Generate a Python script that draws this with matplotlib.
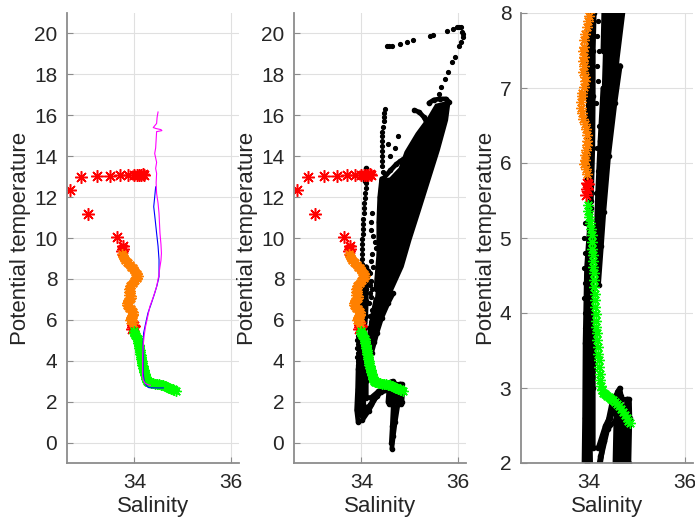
import matplotlib.pyplot as plt

plt.rcParams['font.family'] = ['Liberation Sans', 'DejaVu Sans']

# --- CTD cast, split by water mass (salinity, potential temperature) ---
red_sal = [32.66, 32.89, 33.04, 33.23, 33.49, 33.70, 33.86, 33.99, 34.06, 34.10, 34.14, 34.17, 34.20,
           33.63, 33.77, 33.76, 33.74, 33.96, 33.99, 33.95, 33.98]
red_temp = [12.37, 12.96, 11.15, 13.04, 13.04, 13.08, 13.08, 13.08, 13.10, 13.10, 13.10, 13.12, 13.10,
            10.03, 9.62, 9.48, 9.38, 5.74, 5.72, 5.57, 5.65]

orange_sal = [33.74, 33.76, 33.79, 33.81, 33.84, 33.87, 33.90, 33.93, 33.96, 33.99, 34.02, 34.05, 34.07,
              34.06, 34.02, 34.00, 33.96, 33.93, 33.91, 33.90, 33.89, 33.90, 33.89, 33.90, 33.89, 33.92,
              33.93, 33.90, 33.87, 33.86, 33.85, 33.84, 33.87, 33.89, 33.92, 33.95, 33.98, 33.97, 33.96,
              33.95, 33.93, 33.92, 33.91, 33.94, 33.98]
orange_temp = [9.22, 9.12, 9.02, 8.93, 8.85, 8.76, 8.68, 8.60, 8.52, 8.43, 8.34, 8.24, 8.14,
               8.05, 7.96, 7.90, 7.82, 7.72, 7.64, 7.55, 7.49, 7.42, 7.36, 7.29, 7.22, 7.15,
               7.09, 7.01, 6.94, 6.89, 6.82, 6.74, 6.67, 6.59, 6.52, 6.45, 6.37, 6.30, 6.24,
               6.18, 6.11, 6.04, 5.98, 5.92, 5.85]

green_sal = [33.99, 34.00, 34.02, 34.04, 34.05, 34.07, 34.08, 34.08, 34.09, 34.10, 34.10, 34.11, 34.12,
             34.12, 34.13, 34.13, 34.14, 34.15, 34.16, 34.16, 34.17, 34.18, 34.19, 34.20, 34.21, 34.22,
             34.23, 34.24, 34.26, 34.28, 34.31, 34.35, 34.39, 34.43, 34.47, 34.51, 34.55, 34.59, 34.63,
             34.67, 34.71, 34.75, 34.79, 34.83, 34.86]
green_temp = [5.44, 5.36, 5.28, 5.20, 5.12, 5.04, 4.95, 4.86, 4.78, 4.70, 4.62, 4.53, 4.44,
              4.35, 4.26, 4.17, 4.08, 3.99, 3.90, 3.81, 3.73, 3.64, 3.55, 3.46, 3.37, 3.28,
              3.19, 3.11, 3.03, 2.97, 2.94, 2.92, 2.90, 2.88, 2.86, 2.84, 2.82, 2.79, 2.76,
              2.72, 2.68, 2.64, 2.60, 2.56, 2.53]

# --- reference profiles ---
magenta_sal = [34.49, 34.47, 34.46, 34.39, 34.45, 34.55, 34.57, 34.46, 34.45, 34.44, 34.42, 34.46, 34.44,
               34.46, 34.45, 34.46, 34.49, 34.51, 34.52, 34.53, 34.55, 34.56, 34.55, 34.53, 34.50, 34.46,
               34.39, 34.32, 34.27, 34.23, 34.20, 34.18, 34.17, 34.17, 34.17, 34.18, 34.22, 34.28, 34.33]
magenta_temp = [16.16, 15.90, 15.60, 15.40, 15.35, 15.30, 15.25, 15.20, 14.80, 14.40, 14.13, 13.70, 13.40,
                13.16, 12.70, 12.18, 11.70, 11.20, 10.70, 10.23, 9.70, 9.25, 8.90, 8.60, 8.10, 7.62,
                7.10, 6.65, 6.10, 5.67, 5.20, 4.70, 4.20, 3.72, 3.30, 3.07, 2.90, 2.83, 2.80]

blue_sal = [34.44, 34.42, 34.40, 34.43, 34.46, 34.49, 34.51, 34.51, 34.47, 34.42, 34.35, 34.28, 34.23,
            34.19, 34.18, 34.18, 34.18, 34.18, 34.20, 34.22, 34.26, 34.30, 34.45, 34.60]
blue_temp = [12.50, 12.00, 11.53, 10.90, 10.23, 9.60, 8.93, 8.11, 7.70, 7.30, 6.80, 6.33, 5.80,
             5.35, 4.90, 4.38, 3.90, 3.40, 3.05, 2.90, 2.75, 2.68, 2.67, 2.67]

# --- float data: region where the samples merge into a solid mass ---
core_sal = [34.30, 34.26, 34.33, 34.36, 34.36, 34.40, 34.60, 34.80, 34.92, 35.15, 35.40, 35.55,
            35.82, 35.77, 35.60, 35.40, 35.20, 35.01, 34.85, 34.62, 34.42]
core_temp = [5.20, 6.00, 7.50, 9.00, 11.00, 12.80, 12.90, 13.40, 14.20, 15.10, 15.90, 16.50,
             16.65, 15.76, 14.30, 12.80, 11.30, 9.90, 8.60, 7.40, 6.10]

# --- float data: densely sampled segments ---
dense_sal = [
    [34.21, 34.27, 34.32, 34.42, 34.55, 34.66],
    [34.18, 34.22, 34.27, 34.35, 34.45],
    [34.15, 34.19, 34.24, 34.30],
    [34.30, 34.36, 34.36, 34.38, 34.42],
    [35.10, 35.20, 35.30, 35.38, 35.45],
    [35.40, 35.50, 35.62, 35.75, 35.82],
    [34.45, 34.60, 34.72, 34.80, 34.87, 34.95, 35.05],
    [34.08, 34.09, 34.10, 34.10],
    [34.02, 34.05, 34.06, 34.05, 34.07, 34.10, 34.10],
    [34.06, 34.09, 34.10, 34.10, 34.12, 34.14],
    [33.97, 33.99, 34.00, 34.00, 34.02],
    [34.05, 33.96, 33.93, 33.92, 33.90, 33.93, 34.02, 34.15, 34.32, 34.50, 34.62, 34.70, 34.80, 34.85],
    [34.10, 34.00, 33.98, 33.97, 34.00, 34.20, 34.40, 34.60, 34.80],
    [34.08, 34.05, 34.03, 34.05, 34.10, 34.25, 34.45, 34.62, 34.72],
    [34.12, 34.10, 34.10, 34.20, 34.35, 34.55],
    [34.55, 34.57, 34.60, 34.65, 34.68, 34.66],
    [34.58, 34.60, 34.62],
    [34.62, 34.64],
    [34.74, 34.76, 34.80, 34.85, 34.86, 34.84],
    [34.78, 34.80, 34.81],
    [34.82, 34.83],
    [34.82, 34.76, 34.70, 34.66, 34.63],
    [34.70, 34.66, 34.64, 34.62],
]
dense_temp = [
    [4.38, 4.90, 5.35, 6.10, 6.80, 7.30],
    [4.60, 5.20, 5.80, 6.50, 7.20],
    [4.90, 5.60, 6.30, 7.00],
    [7.50, 9.20, 10.80, 12.00, 12.90],
    [16.25, 16.15, 15.90, 15.50, 15.10],
    [16.60, 16.75, 16.80, 16.80, 16.65],
    [12.90, 13.30, 13.60, 13.75, 13.85, 13.60, 13.40],
    [12.80, 13.00, 13.20, 13.40],
    [5.30, 5.90, 6.50, 7.10, 7.70, 8.20, 8.60],
    [5.50, 6.20, 6.90, 7.50, 8.00, 8.40],
    [5.60, 6.30, 7.00, 7.60, 8.10],
    [5.40, 4.60, 3.60, 2.60, 1.60, 1.00, 1.10, 1.55, 2.30, 2.85, 2.95, 2.85, 2.85, 2.60],
    [5.00, 4.20, 3.20, 2.00, 1.35, 1.90, 2.45, 2.60, 2.50],
    [4.60, 3.60, 2.60, 1.80, 1.55, 2.10, 2.60, 2.80, 2.75],
    [3.80, 3.00, 2.20, 2.20, 2.50, 2.75],
    [2.00, 2.60, 2.95, 3.00, 2.90, 2.00],
    [1.90, 2.50, 2.90],
    [1.90, 2.95],
    [2.00, 2.60, 2.85, 2.85, 2.60, 2.00],
    [1.90, 2.50, 2.82],
    [1.90, 2.80],
    [2.60, 1.90, 1.00, 0.30, -0.30],
    [2.60, 1.80, 0.80, 0.00],
]

# --- float data: isolated samples ---
sparse_sal = [34.52, 34.58, 34.63, 34.80, 34.94, 35.08, 35.42, 35.49, 35.77, 35.91, 35.98, 36.02, 36.06,
              36.09, 36.10, 36.10, 36.07, 36.03, 35.94, 35.87, 35.80, 35.73, 35.66, 35.61,
              34.48, 34.47, 34.46, 34.47, 34.45, 34.43, 34.43, 34.42, 34.42, 34.42, 34.43, 34.42, 34.43, 34.44,
              34.10, 34.09, 34.08, 34.07, 34.06, 34.05, 34.05, 34.04, 34.04, 34.03, 34.03, 34.02, 34.02,
              34.01, 34.01, 34.02, 34.02,
              34.22, 34.20, 34.20, 34.24, 34.28, 34.30, 34.22, 34.20, 34.25, 34.18, 34.20, 34.22, 34.17,
              34.20, 34.16, 34.22, 34.18, 34.20, 34.15, 34.18,
              33.92, 33.90, 33.93, 33.91, 33.92, 33.90, 33.92, 33.93,
              34.60, 34.70, 34.55, 34.75]
sparse_temp = [19.37, 19.37, 19.37, 19.50, 19.59, 19.67, 19.90, 19.93, 20.11, 20.22, 20.31, 20.33, 20.34,
               20.06, 19.95, 19.82, 19.58, 19.41, 18.85, 18.60, 18.10, 17.79, 17.39, 17.06,
               16.30, 16.10, 15.90, 15.70, 15.45, 15.20, 15.00, 14.75, 14.50, 14.25, 14.00, 13.75, 13.50, 13.25,
               12.70, 12.45, 12.20, 11.95, 11.70, 11.45, 11.20, 10.95, 10.70, 10.45, 10.20, 9.95, 9.70,
               9.45, 9.20, 8.95, 8.75,
               11.20, 10.80, 10.40, 10.10, 9.80, 9.50, 9.20, 8.90, 8.60, 8.30, 7.90, 7.50, 7.70,
               7.10, 6.80, 6.50, 6.20, 5.90, 5.60, 7.30,
               5.20, 5.00, 4.80, 4.60, 4.40, 4.20, 4.00, 3.80,
               14.00, 14.40, 14.60, 15.00]

AX_GRAY = '#8c8c8c'
TXT = '#262626'
star = (8, 2, 0)

fig = plt.figure(figsize=(6.95, 5.31), dpi=100)
lefts = [67 / 695, 294 / 695, 521 / 695]
axes = [fig.add_axes([l, 68 / 531, 172 / 695, 450 / 531]) for l in lefts]


def draw_cast(ax):
    ax.plot(red_sal, red_temp, ls='none', marker=star, ms=9, mew=1.1, color='#ff0000')
    ax.plot(orange_sal, orange_temp, ls='none', marker=star, ms=7.5, mew=1.0, color='#ff8000')
    ax.plot(green_sal, green_temp, ls='none', marker=star, ms=7.5, mew=1.0, color='#00ff00')


def draw_float(ax):
    ax.fill(core_sal, core_temp, color='k', lw=2)
    for s, t in zip(dense_sal, dense_temp):
        ax.plot(s, t, '-', color='k', lw=3.4, marker='.', ms=6, solid_capstyle='round')
    ax.plot(sparse_sal, sparse_temp, ls='none', marker='.', ms=5.5, color='k')


def style(ax, ylim, yticks):
    ax.set_xlim(32.6, 36.17)
    ax.set_ylim(*ylim)
    ax.set_xticks([34, 36])
    ax.set_yticks(yticks)
    ax.grid(True, color='#e0e0e0', lw=0.8)
    ax.set_axisbelow(True)
    for side in ['top', 'right']:
        ax.spines[side].set_visible(False)
    for side in ['left', 'bottom']:
        ax.spines[side].set_color(AX_GRAY)
        ax.spines[side].set_linewidth(1.3)
    ax.tick_params(direction='in', length=4, width=0.8, color=AX_GRAY,
                   labelsize=15, labelcolor=TXT, pad=7)
    ax.set_xlabel('Salinity', fontsize=16, color=TXT, labelpad=3)
    ax.set_ylabel('Potential temperature', fontsize=16, color=TXT, labelpad=2)


# left: cast with the two reference profiles
ax = axes[0]
draw_cast(ax)
ax.plot(blue_sal, blue_temp, color='#0000ff', lw=0.8)
ax.plot(magenta_sal, magenta_temp, color='#ff00ff', lw=0.8)
style(ax, (-1, 21), range(0, 21, 2))

# middle: cast over the float data
ax = axes[1]
draw_float(ax)
draw_cast(ax)
style(ax, (-1, 21), range(0, 21, 2))

# right: same, zoomed on 2-8 degrees
ax = axes[2]
draw_float(ax)
draw_cast(ax)
style(ax, (2, 8), range(2, 9))

fig.savefig('out.png', dpi=100)
